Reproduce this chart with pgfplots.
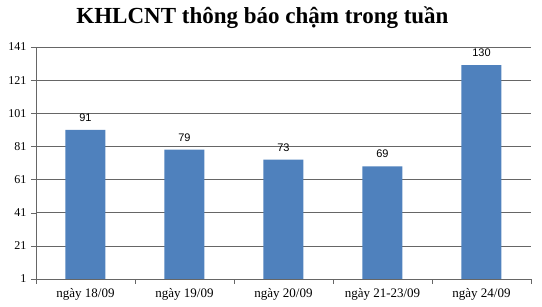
\documentclass[border=0pt]{standalone}
\usepackage{pgfplots}
\pgfplotsset{compat=1.18}
\usepackage{fontspec}
\setmainfont{Liberation Serif}
\newfontfamily\labfont{Liberation Sans}
\definecolor{barblue}{HTML}{4F81BD}
\begin{document}
\begin{tikzpicture}
\path[use as bounding box] (-36pt,-28pt) rectangle (506pt,279pt);
\begin{axis}[
  at={(0,0)}, anchor=south west,
  scale only axis, width=495pt, height=232pt,
  xmin=-0.5, xmax=4.5, ymin=1, ymax=141,
  ytick={1,21,41,61,81,101,121,141},
  xtick={0,1,2,3,4},
  xticklabels={ngày 18/09, ngày 19/09, ngày 20/09, ngày 21-23/09, ngày 24/09},
  minor xtick={-0.5,0.5,1.5,2.5,3.5,4.5},
  axis x line*=bottom, axis y line*=left,
  axis line style={gray!80!black, -},
  ymajorgrids, major grid style={gray!80!black, line width=0.5pt},
  major x tick style={draw=none},
  minor x tick style={gray!80!black},
  major y tick style={gray!80!black},
  minor tick length=5pt, major tick length=5pt,
  tick align=outside,
  /pgf/number format/assume math mode=true,
  yticklabel style={font=\fontsize{12}{14}\selectfont, xshift=-1pt},
  xticklabel style={font=\fontsize{13}{15}\selectfont, yshift=-1pt},
  ybar, bar width=40pt,
  nodes near coords,
  every node near coord/.append style={font=\labfont\fontsize{11}{13}\selectfont, yshift=5pt, black},
  title={\bfseries\fontsize{23}{26}\selectfont KHLCNT thông báo chậm trong tuần},
  title style={at={(0.5,1)}, anchor=base, yshift=17pt, xshift=-21pt},
]
\addplot[fill=barblue, draw=none] coordinates {(0,91) (1,79) (2,73) (3,69) (4,130)};
\end{axis}
\end{tikzpicture}
\end{document}
